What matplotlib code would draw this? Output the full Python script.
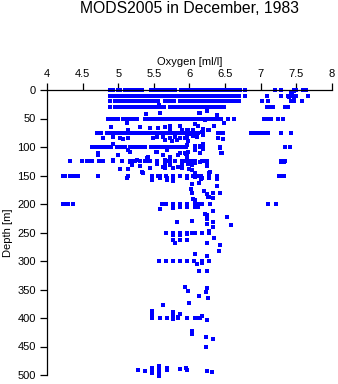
import matplotlib
matplotlib.use("Agg")
import matplotlib.pyplot as plt

plt.rcParams.update({
    "font.family": ["Liberation Sans", "DejaVu Sans"],
})

# oxygen [ml/l] read at the standard depth levels [m]
std_depths = [0, 10, 20, 30, 50, 75, 100, 125, 150, 200, 250, 300, 400]

o2_0m = [4.88, 4.92, 4.99, 5.02, 5.10, 5.14, 5.18, 5.22, 5.26, 5.30, 5.34,
         5.46, 5.50, 5.54, 5.58, 5.62, 5.66, 5.70, 5.74, 5.79, 5.88,
         5.92, 5.96, 6.00, 6.04, 6.08, 6.12, 6.16, 6.20, 6.24, 6.28, 6.32, 6.36,
         6.40, 6.44, 6.48, 6.52, 6.56, 6.60, 6.64, 6.68, 6.71, 6.78, 7.20, 7.28,
         7.46, 7.50, 7.59, 7.63]
o2_10m = [4.88, 4.92, 4.97, 5.01, 5.06, 5.10, 5.14, 5.18, 5.22, 5.26, 5.30, 5.34,
          5.38, 5.42, 5.46, 5.50, 5.54, 5.58, 5.61, 5.67, 5.71, 5.75, 5.79, 5.85,
          5.89, 5.93, 5.97, 6.01, 6.05, 6.09, 6.13, 6.17, 6.21, 6.25, 6.29, 6.33,
          6.37, 6.41, 6.45, 6.49, 6.53, 6.57, 6.61, 6.65, 6.70, 6.78, 7.09, 7.28,
          7.38, 7.42, 7.46, 7.50, 7.66]
o2_20m = [4.88, 4.96, 5.00, 5.04, 5.08, 5.12, 5.16, 5.20, 5.24, 5.28, 5.32, 5.36,
          5.40, 5.44, 5.48, 5.52, 5.56, 5.66, 5.70, 5.74, 5.78, 5.86, 5.90, 5.94,
          5.98, 6.02, 6.06, 6.10, 6.14, 6.18, 6.22, 6.26, 6.30, 6.34, 6.38, 6.42,
          6.46, 6.50, 6.54, 6.58, 6.62, 6.66, 6.70, 7.02, 7.10, 7.42, 7.46, 7.58]
o2_30m = [4.88, 4.95, 4.99, 5.03, 5.07, 5.11, 5.15, 5.19, 5.23, 5.27, 5.31, 5.35,
          5.39, 5.43, 5.47, 5.51, 5.55, 5.59, 5.64, 5.72, 5.76, 5.80, 5.84, 5.88,
          5.92, 5.96, 6.00, 6.04, 6.08, 6.12, 6.16, 6.20, 6.24, 6.28, 6.32, 6.36,
          6.40, 6.44, 6.48, 7.09, 7.13, 7.17, 7.34, 7.38]
o2_50m = [4.86, 4.90, 4.95, 5.00, 5.06, 5.10, 5.14, 5.18, 5.22, 5.26,
          5.38, 5.42, 5.46, 5.50, 5.54, 5.58, 5.62, 5.66, 5.70, 5.74, 5.80, 5.84,
          5.88, 5.92, 5.96, 6.00, 6.04, 6.08, 6.12, 6.16, 6.20, 6.24, 6.28, 6.32,
          6.36, 6.40, 6.44, 6.54, 6.62, 7.04, 7.10, 7.14, 7.24, 7.31]
o2_75m = [4.70, 4.76, 4.84, 4.88, 4.92, 4.96, 5.00, 5.04, 5.08, 5.12, 5.16, 5.20,
          5.24, 5.28, 5.32, 5.36, 5.40, 5.44, 5.48, 5.52, 5.56, 5.60, 5.64, 5.68,
          5.72, 5.76, 5.80, 5.84, 5.88, 5.92, 5.96, 6.00, 6.04, 6.08, 6.12, 6.19,
          6.42, 6.47, 6.86, 6.92, 6.98, 7.02, 7.06, 7.10, 7.29, 7.42]
o2_100m = [4.63, 4.67, 4.70, 4.74, 4.78, 4.82, 4.86, 4.90, 4.98, 5.02, 5.06,
           5.10, 5.17, 5.21, 5.25, 5.29, 5.34, 5.38, 5.46, 5.50, 5.54, 5.58,
           5.62, 5.66, 5.70, 5.74, 5.78, 5.82, 5.86, 5.90, 5.95, 6.08, 6.15, 6.19,
           6.43, 7.34, 7.41]
o2_125m = [4.32, 4.49, 4.56, 4.60, 4.63, 4.73, 4.76, 4.79, 4.92, 5.05, 5.16, 5.20,
           5.24, 5.30, 5.38, 5.42, 5.45, 5.54, 5.68, 5.73, 5.80, 5.89, 5.94, 5.98,
           6.03, 6.08, 6.17, 6.24, 7.28, 7.34]
o2_150m = [4.22, 4.25, 4.32, 4.35, 4.38, 4.44, 4.72, 5.14, 5.47, 5.56, 5.59, 5.67,
           5.77, 5.87, 5.96, 6.05, 6.08, 6.10, 6.16, 6.27, 6.38, 7.26, 7.29, 7.33]
o2_200m = [4.22, 4.26, 4.30, 4.37, 5.61, 5.67, 5.77, 5.87, 5.97, 6.08, 6.12, 6.17,
           6.29, 7.10, 7.21]
o2_250m = [5.67, 5.77, 5.87, 5.97, 6.04, 6.08, 6.17, 6.28]
o2_300m = [5.57, 5.67, 5.77, 5.87, 5.97, 6.07, 6.17, 6.28]
o2_400m = [5.48, 5.58, 5.68, 5.77, 5.84, 5.97, 6.08, 6.12, 6.15]

o2_rows = [o2_0m, o2_10m, o2_20m, o2_30m, o2_50m, o2_75m, o2_100m, o2_125m,
           o2_150m, o2_200m, o2_250m, o2_300m, o2_400m]

# observations off the standard levels
extra_o2 = [7.42, 7.46, 7.44, 7.40, 7.47,
            5.39, 5.59, 5.57, 6.15, 6.24, 6.38, 6.14,
            4.90, 5.12, 5.13, 5.30, 5.45, 5.56, 5.66, 5.73, 5.73, 5.87, 5.90, 5.98,
            6.22, 6.29, 6.08, 6.12, 6.19, 6.26, 6.35, 6.48, 5.96, 6.05,
            4.79, 4.92, 5.03, 5.07, 5.13, 5.49, 5.54, 5.63, 5.65, 5.73, 5.75, 5.80,
            5.83, 5.87, 5.93, 5.96, 6.05, 6.10, 6.19, 6.17, 6.27, 6.40, 6.40, 6.47,
            4.92, 5.96, 6.08, 6.15, 6.19, 6.43, 6.00, 5.98,
            4.72, 4.72, 5.00, 5.16, 5.40, 5.53, 5.63, 5.68, 5.73, 5.84, 5.94, 5.96,
            6.08, 6.15, 6.19, 6.22, 6.44, 5.13, 4.93, 5.26, 5.42, 5.54, 5.87, 5.95,
            5.98, 6.15, 6.45, 5.96, 7.29, 7.33,
            5.16, 5.02, 5.14, 5.19, 5.33, 5.45, 5.63, 5.66, 5.66, 5.66, 5.66, 5.77,
            5.84, 5.89, 5.89, 5.89, 6.00, 6.03, 6.08, 6.15, 6.24, 6.29, 5.30, 5.35,
            5.98, 6.24, 6.03, 6.08, 6.27, 5.54, 5.73,
            5.48, 5.48, 5.68, 5.68, 5.77, 5.77, 5.12, 5.59, 5.96, 6.08, 6.16, 6.27,
            6.38, 6.14, 6.03, 6.38, 6.02, 6.03, 6.21, 6.24, 6.27, 6.33, 6.33, 6.43,
            6.08, 6.05, 6.26, 6.18,
            5.58, 5.77, 5.77, 5.87, 5.97, 6.08, 6.12, 6.33, 6.22, 6.24, 6.53, 6.04,
            6.24, 6.24, 6.33, 6.58, 5.83, 6.33, 6.28,
            5.77, 5.87, 5.97, 5.80, 6.25, 6.35, 6.43, 6.42, 6.08, 6.25, 5.77, 5.87,
            5.97, 6.17,
            6.11, 6.18, 6.13, 6.25, 5.94, 5.98, 6.25, 6.23, 6.14, 6.26, 6.00, 5.63,
            5.48, 5.48, 5.48, 5.77, 5.77, 5.77, 6.24, 5.84, 5.87, 6.18,
            6.04, 6.04, 6.23, 6.33, 6.23,
            5.28, 5.38, 5.48, 5.48, 5.48, 5.57, 5.57, 5.57, 5.57, 5.68, 5.68, 5.87,
            5.95, 5.97, 6.24, 6.31]
extra_depth = [4, 2, 7, 12, 14,
               42, 40, 27, 41, 37, 44, 41,
               65, 58, 70, 65, 67, 67, 65, 63, 69, 63, 70, 71,
               53, 51, 60, 63, 68, 71, 63, 58, 71, 71,
               85, 83, 85, 86, 84, 84, 82, 83, 87, 84, 90, 82,
               88, 85, 84, 82, 80, 82, 79, 73, 71, 76, 85, 86,
               95, 96, 98, 98, 94, 102, 78, 90,
               110, 114, 114, 108, 119, 109, 114, 105, 117, 114, 110, 116,
               105, 111, 104, 124, 110, 105, 122, 122, 118, 108, 110, 112,
               108, 110, 111, 117, 126, 126,
               126, 139, 139, 132, 143, 137, 135, 123, 128, 133, 137, 137,
               135, 128, 133, 137, 139, 132, 128, 127, 126, 143, 134, 145,
               129, 133, 140, 145, 145, 130, 132,
               155, 158, 155, 158, 155, 160, 155, 155, 155, 153, 156, 155,
               156, 164, 165, 168, 174, 181, 178, 183, 188, 180, 190, 181,
               193, 191, 187, 155,
               208, 203, 207, 206, 205, 205, 206, 212, 217, 219, 223, 230,
               226, 235, 232, 236, 232, 241, 248,
               254, 254, 253, 268, 268, 260, 272, 282, 288, 291, 264, 264,
               264, 304,
               306, 302, 317, 317, 346, 353, 347, 354, 361, 365, 373, 378,
               388, 393, 398, 390, 395, 402, 404, 398, 393, 396,
               422, 428, 434, 436, 451,
               491, 493, 487, 491, 496, 485, 490, 495, 501, 487, 492, 490,
               488, 492, 493, 495]

oxy_ticks = [4, 4.5, 5, 5.5, 6, 6.5, 7, 7.5, 8]
depth_ticks = [0, 50, 100, 150, 200, 250, 300, 350, 400, 450, 500]

fig = plt.figure(figsize=(3.38, 3.84), dpi=100)
ax = fig.add_axes([47 / 338, 1 - 375 / 384, 285 / 338, 285 / 384])

for d, row in zip(std_depths, o2_rows):
    ax.plot(row, [d] * len(row), 's', color='blue', ms=2.2, mew=0,
            clip_on=False, antialiased=False)
ax.plot(extra_o2, extra_depth, 's', color='blue', ms=2.2, mew=0,
        clip_on=False, antialiased=False)

ax.set_xlim(4, 8)
ax.set_ylim(500, 0)
ax.xaxis.tick_top()
ax.xaxis.set_label_position('top')
ax.set_xticks(oxy_ticks)
ax.set_xticklabels(['4', '4.5', '5', '5.5', '6', '6.5', '7', '7.5', '8'])
ax.set_yticks(depth_ticks)

ax.spines['right'].set_visible(False)
ax.spines['bottom'].set_visible(False)
for s in ['top', 'left']:
    ax.spines[s].set_linewidth(0.9)

ax.tick_params(axis='both', direction='out', length=5, width=0.9, labelsize=8, pad=3)
ax.set_xlabel('Oxygen [ml/l]', fontsize=8, labelpad=3)
ax.set_ylabel('Depth [m]', fontsize=8, labelpad=3)

fig.text(0.56, 0.978, 'MODS2005 in December, 1983', ha='center', va='center', fontsize=11.3)

fig.savefig('out.png', dpi=100)
